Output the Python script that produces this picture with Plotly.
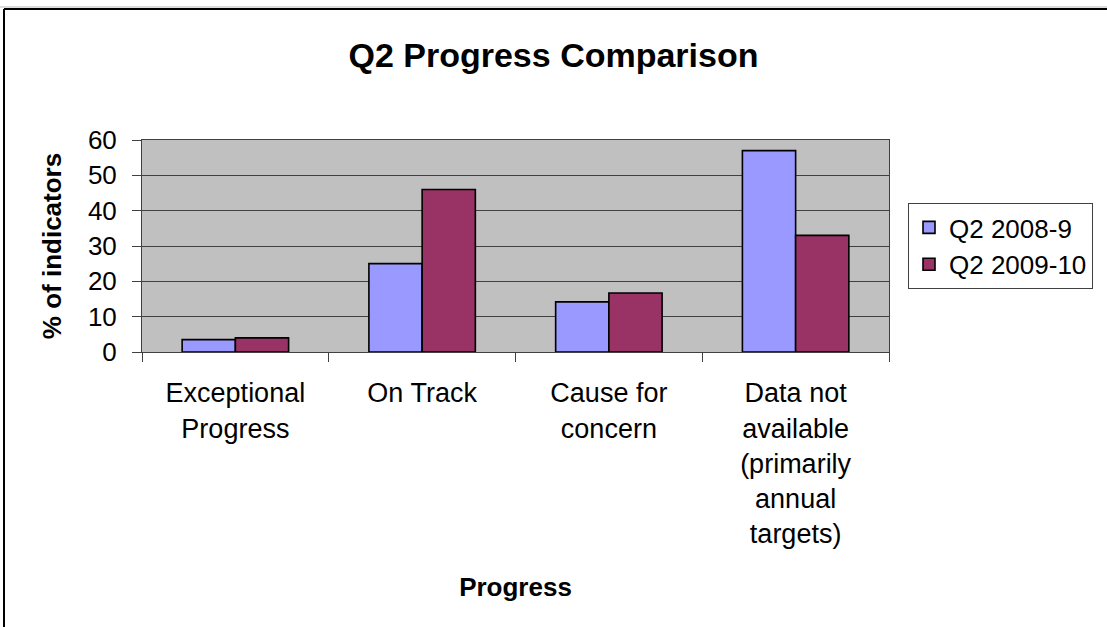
import plotly.graph_objects as go

categories = ["Exceptional<br>Progress", "On Track", "Cause for<br>concern",
              "Data not<br>available<br>(primarily<br>annual<br>targets)"]
series_names = ["Q2 2008-9", "Q2 2009-10"]
q2_2008_9 = [3.5, 25, 14.2, 57]
q2_2009_10 = [4, 46, 16.7, 33]
y_ticks = [0, 10, 20, 30, 40, 50, 60]

FONT = "Liberation Sans, Arial, sans-serif"
W, H = 1107, 627
L, R, T, B = 142, 1107 - 889, 140, 627 - 352

fig = go.Figure()
fig.add_bar(name=series_names[0], x=categories, y=q2_2008_9,
            marker=dict(color="#9999FF", line=dict(color="black", width=1.6)))
fig.add_bar(name=series_names[1], x=categories, y=q2_2009_10,
            marker=dict(color="#993366", line=dict(color="black", width=1.6)))

pw = W - L - R
ph = H - T - B
def px(x):
    return (x - L) / pw
def py(y):
    return (H - B - y) / ph

fig.update_layout(
    width=W, height=H,
    margin=dict(l=L, r=R, t=T, b=B, autoexpand=False),
    paper_bgcolor="white",
    plot_bgcolor="#C0C0C0",
    barmode="group",
    bargap=0.43,
    bargroupgap=0,
    font=dict(family=FONT, size=26, color="black"),
    title=dict(text="<b>Q2 Progress Comparison</b>", x=0.5, xanchor="center",
               y=1 - 55 / H, yanchor="middle",
               font=dict(family=FONT, size=34, color="black")),
    showlegend=True,
    legend=dict(x=px(908), y=py(203), xanchor="left", yanchor="top",
                bgcolor="white", bordercolor="#404040", borderwidth=1,
                font=dict(family=FONT, size=26, color="black"),
                tracegroupgap=0, itemwidth=30),
    xaxis=dict(
        showgrid=False, ticks="outside", tickson="boundaries", ticklen=9,
        tickcolor="#404040", showline=True, linecolor="#404040", linewidth=1,
        mirror=True, ticklabelstandoff=17,
        tickfont=dict(family=FONT, size=27, color="black"),
        title=dict(text="<b>Progress</b>", standoff=30,
                   font=dict(family=FONT, size=26, color="black")),
    ),
    yaxis=dict(
        range=[0, 60], tickvals=y_ticks, showgrid=True, gridcolor="#404040",
        gridwidth=1, ticks="outside", ticklen=9, tickcolor="#404040",
        showline=True, linecolor="#404040", linewidth=1, mirror=True,
        zeroline=False, ticklabelstandoff=10,
        tickfont=dict(family=FONT, size=26, color="black"),
        title=dict(text="<b>% of indicators</b>", standoff=18,
                   font=dict(family=FONT, size=26, color="black")),
    ),
    shapes=[
        dict(type="line", xref="paper", yref="paper",
             x0=px(4), x1=px(1107), y0=py(9), y1=py(9),
             line=dict(color="black", width=2)),
        dict(type="line", xref="paper", yref="paper",
             x0=px(4), x1=px(4), y0=py(9), y1=py(627),
             line=dict(color="black", width=2)),
        dict(type="line", xref="paper", yref="paper",
             x0=px(0), x1=px(1107), y0=py(7), y1=py(7),
             line=dict(color="#BBBBBB", width=1)),
    ],
)

fig.write_html("out.html", config={"displayModeBar": False},
               post_script="document.body.style.margin='0';")
